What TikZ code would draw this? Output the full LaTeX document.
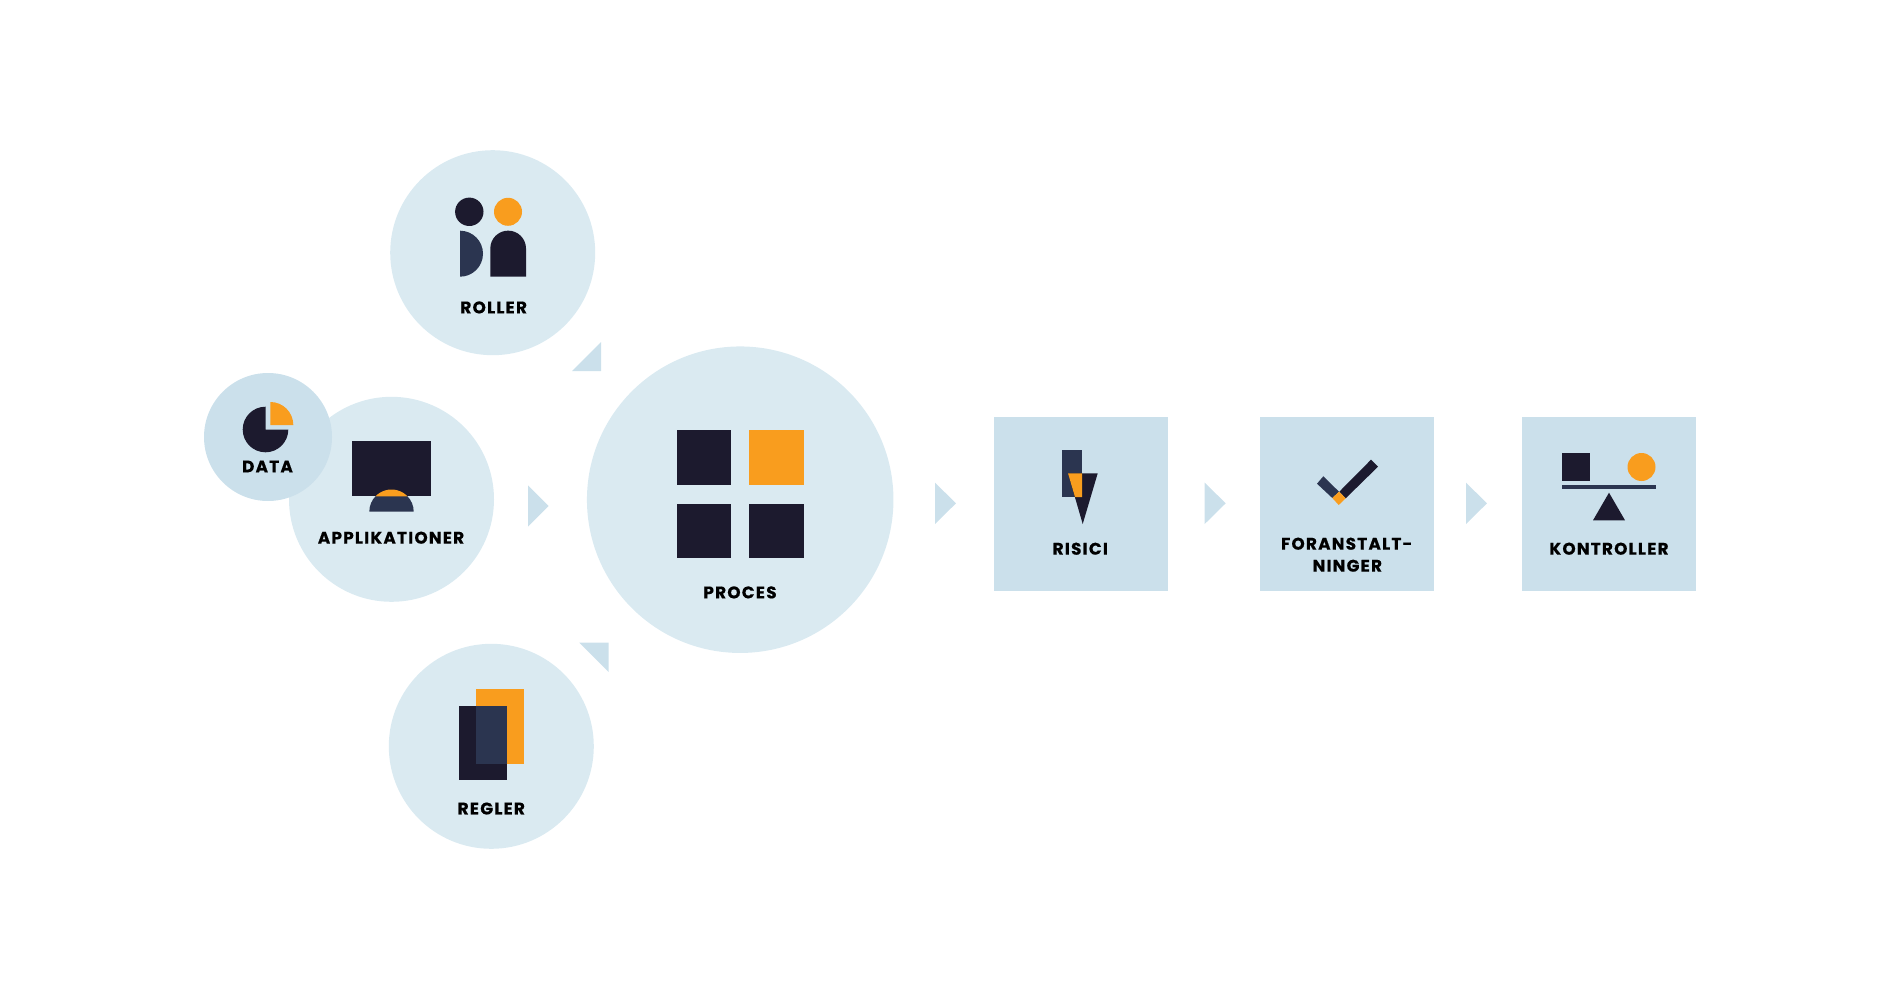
\documentclass[tikz,border=0pt]{standalone}
\usepackage{fontspec}
\newfontfamily\lblfont[LetterSpace=7.5, BoldFeatures={FakeBold=0.6}]{Poppins}
\definecolor{lightblue}{HTML}{DAEAF1}
\definecolor{midblue}{HTML}{CBE0EB}
\definecolor{darkink}{HTML}{1C1A2E}
\definecolor{navyink}{HTML}{2B3550}
\definecolor{orangeink}{HTML}{F99D1E}
\tikzset{
  bigcircle/.style={circle, fill=lightblue, inner sep=0pt, minimum size=205pt},
  box/.style={rectangle, fill=midblue, inner sep=0pt, minimum size=174pt},
  lbl/.style={inner sep=0pt, text=black, text height=11.3pt, text depth=0pt,
    font=\lblfont\bfseries\fontsize{16.8}{19}\selectfont},
  tile/.style={rectangle, inner sep=0pt, minimum size=54.7pt},
  arrowtri/.style={fill=midblue}
}
\begin{document}
\begin{tikzpicture}[x=1pt, y=-1pt]
    \useasboundingbox (0,0) rectangle (1900,1000);

    % Cirkler
    \node[bigcircle] (roller) at (492.7,252.7) {};
    \node[bigcircle] (appl) at (391.5,499.3) {};
    \node[circle, fill=midblue, inner sep=0pt, minimum size=128pt] (data) at (268,437) {};
    \node[bigcircle, minimum size=306.5pt] (proces) at (740.2,499.7) {};
    \node[bigcircle] (regler) at (491.3,746.3) {};

    % Kasser
    \node[box] (risici) at (1080.7,503.5) {};
    \node[box] (foranst) at (1347.3,503.5) {};
    \node[box] (kontrol) at (1608.8,503.5) {};

    % Pile
    \fill[arrowtri] (572,371) -- (601,371) -- (601,342) -- cycle;
    \fill[arrowtri] (528,485.3) -- (528,526.7) -- (548.7,506) -- cycle;
    \fill[arrowtri] (579.3,642.7) -- (608.7,642.7) -- (608.7,672) -- cycle;
    \fill[arrowtri] (935,482.7) -- (935,524) -- (956,503.3) -- cycle;
    \fill[arrowtri] (1204.7,482.7) -- (1204.7,524) -- (1225.7,503.3) -- cycle;
    \fill[arrowtri] (1466,482.7) -- (1466,524) -- (1487,503.3) -- cycle;

    % Roller
    \fill[darkink] (469.3,211.8) circle (14.2);
    \fill[orangeink] (508,211.8) circle (14);
    \fill[navyink] (460,230.7) arc[start angle=90, end angle=-90, radius=23pt] -- cycle;
    \fill[darkink] (490.3,276.7) -- (490.3,248.5)
        arc[start angle=180, end angle=0, radius=17.85pt] -- (526,276.7) -- cycle;
    \node[lbl] (rollertxt) at (493.7,307.7) {ROLLER};

    % Data
    \fill[darkink] (265.5,429.5) -- (265.5,406.7)
        arc[start angle=90, end angle=360, radius=22.8pt] -- cycle;
    \fill[orangeink] (270.3,425) -- (270.3,402)
        arc[start angle=90, end angle=0, radius=23pt] -- cycle;
    \node[lbl] (datatxt) at (267.5,466.7) {DATA};

    % Applikationer
    \fill[navyink] (369.3,511.7) arc[start angle=180, end angle=0, radius=22.2pt] -- cycle;
    \fill[darkink] (352,440.7) rectangle (431,496.3);
    \fill[orangeink] (375.5,496.3) arc[start angle=136.1, end angle=43.9, radius=22.2pt] -- cycle;
    \node[lbl] (appltxt) at (391,538) {APPLIKATIONER};

    % Regler
    \fill[orangeink] (475.7,689.3) rectangle (523.7,763.7);
    \fill[darkink] (459.3,705.7) rectangle (507.3,780);
    \fill[navyink] (475.7,705.7) rectangle (507.3,763.7);
    \node[lbl] (reglertxt) at (491.3,808.8) {REGLER};

    % Proces
    \node[tile, fill=darkink] (p1) at (704,457.3) {};
    \node[tile, fill=orangeink] (p2) at (776.3,457.3) {};
    \node[tile, fill=darkink] (p3) at (704,531) {};
    \node[tile, fill=darkink] (p4) at (776.3,531) {};
    \node[lbl] (procestxt) at (740,592.7) {PROCES};

    % Risici
    \fill[navyink] (1061.7,450.3) rectangle (1082,497);
    \fill[darkink] (1068,473.3) -- (1097.7,473.3) -- (1082.7,524) -- cycle;
    \fill[orangeink] (1068,473.3) -- (1082,473.3) -- (1082,497) -- (1075,497) -- cycle;
    \node[lbl] (risicitxt) at (1080.3,549) {RISICI};

    % Foranstaltninger
    \fill[navyink] (1317,483.7) -- (1323.3,476.3) -- (1339,491.7) -- (1332.3,498) -- cycle;
    \fill[darkink] (1339.3,491.7) -- (1371,459.7) -- (1378,466.7) -- (1345.7,498.3) -- cycle;
    \fill[orangeink] (1332.3,498) -- (1339,491.7) -- (1345.7,498.3) -- (1338.7,505) -- cycle;
    \node[lbl] (foranst1) at (1346.7,544) {FORANSTALT-};
    \node[lbl] (foranst2) at (1347.3,566) {NINGER};

    % Kontroller
    \fill[darkink] (1562.3,453) rectangle (1590.3,481);
    \fill[orangeink] (1641.5,467) circle (14);
    \fill[navyink] (1562.3,485) rectangle (1655.7,488.7);
    \fill[darkink] (1609,492.7) -- (1593,520.3) -- (1625,520.3) -- cycle;
    \node[lbl] (kontroltxt) at (1609,549) {KONTROLLER};
\end{tikzpicture}
\end{document}
